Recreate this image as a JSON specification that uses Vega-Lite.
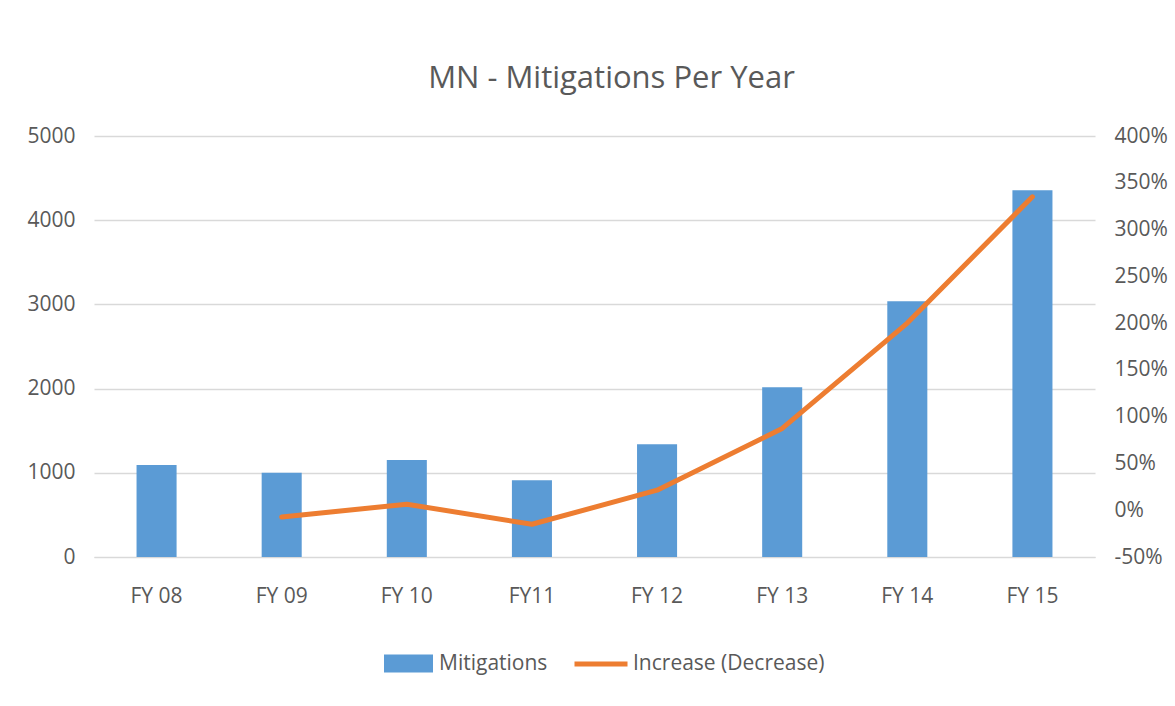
{
  "$schema": "https://vega.github.io/schema/vega-lite/v6.json",
  "autosize": {"type": "none"},
  "width": 1001,
  "height": 421,
  "padding": {"left": 94, "top": 136, "right": 80, "bottom": 149},
  "background": "white",
  "title": {
    "text": "MN - Mitigations Per Year",
    "font": "Open Sans",
    "fontSize": 31,
    "fontWeight": "normal",
    "color": "#595959",
    "anchor": "middle",
    "dx": 17,
    "offset": 30
  },
  "data": {
    "values": [
      {"year": "FY 08", "mitigations": 1092, "change": null},
      {"year": "FY 09", "mitigations": 1000, "change": -0.072},
      {"year": "FY 10", "mitigations": 1151, "change": 0.064},
      {"year": "FY11", "mitigations": 913, "change": -0.15},
      {"year": "FY 12", "mitigations": 1338, "change": 0.214},
      {"year": "FY 13", "mitigations": 2017, "change": 0.874},
      {"year": "FY 14", "mitigations": 3036, "change": 2.0},
      {"year": "FY 15", "mitigations": 4357, "change": 3.35}
    ]
  },
  "encoding": {
    "x": {
      "field": "year",
      "type": "nominal",
      "sort": null,
      "scale": {"paddingInner": 0.68, "paddingOuter": 0.34},
      "axis": {
        "title": null,
        "labelAngle": 0,
        "labelFont": "Open Sans",
        "labelFontSize": 21,
        "labelColor": "#595959",
        "labelPadding": 28,
        "ticks": false,
        "domainColor": "#D9D9D9",
        "grid": false
      }
    }
  },
  "layer": [
    {
      "mark": {"type": "bar"},
      "encoding": {
        "y": {
          "field": "mitigations",
          "type": "quantitative",
          "scale": {"domain": [0, 5000], "nice": false},
          "axis": {
            "title": null,
            "values": [0, 1000, 2000, 3000, 4000, 5000],
            "format": "d",
            "labelFont": "Open Sans",
            "labelFontSize": 21,
            "labelColor": "#595959",
            "labelPadding": 19,
            "ticks": false,
            "domain": false,
            "grid": true,
            "gridColor": "#D9D9D9",
            "gridWidth": 1.3
          }
        },
        "fill": {
          "datum": "Mitigations",
          "scale": {"range": ["#5B9BD5"]},
          "legend": {
            "title": null,
            "orient": "none",
            "legendX": 289,
            "legendY": 502,
            "symbolType": "M-1,-0.37H1V0.37H-1Z",
            "symbolSize": 2401,
            "labelFont": "Open Sans",
            "labelFontSize": 21,
            "labelColor": "#595959",
            "labelOffset": 5,
            "labelLimit": 400
          }
        }
      }
    },
    {
      "mark": {"type": "line", "strokeWidth": 5, "strokeCap": "round", "strokeJoin": "round"},
      "encoding": {
        "y": {
          "field": "change",
          "type": "quantitative",
          "scale": {"domain": [-0.5, 4], "nice": false},
          "axis": {
            "title": null,
            "orient": "right",
            "values": [-0.5, 0, 0.5, 1, 1.5, 2, 2.5, 3, 3.5, 4],
            "labelExpr": "round(datum.value * 100) + '%'",
            "labelFont": "Open Sans",
            "labelFontSize": 21,
            "labelColor": "#595959",
            "labelPadding": 19,
            "ticks": false,
            "domain": false,
            "grid": false
          }
        },
        "stroke": {
          "datum": "Increase (Decrease)",
          "scale": {"range": ["#ED7D31"]},
          "legend": {
            "title": null,
            "orient": "none",
            "legendX": 478,
            "legendY": 499,
            "symbolType": "stroke",
            "symbolSize": 2809,
            "symbolStrokeWidth": 5,
            "labelFont": "Open Sans",
            "labelFontSize": 21,
            "labelColor": "#595959",
            "labelOffset": 3,
            "labelLimit": 400
          }
        }
      }
    }
  ],
  "resolve": {"scale": {"y": "independent"}},
  "config": {"view": {"stroke": null}}
}
